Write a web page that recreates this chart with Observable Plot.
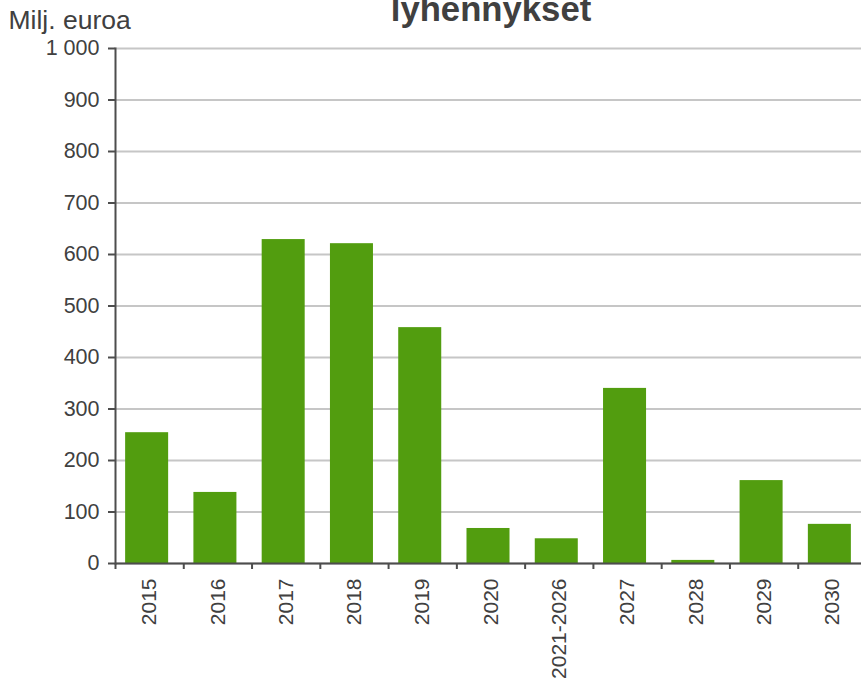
<!DOCTYPE html>
<html>
<head>
<meta charset="utf-8">
<script src="https://cdn.jsdelivr.net/npm/d3@7"></script>
<script src="https://cdn.jsdelivr.net/npm/@observablehq/plot@0.6"></script>
<style>
  html, body { margin: 0; padding: 0; background: #fff; overflow: hidden; }
  #chart { width: 861px; height: 682px; overflow: hidden; }
</style>
</head>
<body>
<div id="chart"></div>
<script>
const title = "lyhennykset";
const yLabel = "Milj. euroa";
const categories = ["2015", "2016", "2017", "2018", "2019", "2020", "2021-2026", "2027", "2028", "2029", "2030"];
const values = [254, 138, 629, 621, 458, 68, 48, 340, 6, 161, 76];
const yTicks = [0, 100, 200, 300, 400, 500, 600, 700, 800, 900, 1000];

const data = categories.map((c, i) => ({ category: c, value: values[i] }));
const fmt = d3.formatLocale({ decimal: ",", thousands: " ", grouping: [3], currency: ["", " €"] }).format(",d");

const W = 861, H = 682;
const mL = 115, mR = -5, mT = 48, mB = 119;
const padInner = 0.37;
const step = (W - mR - mL) / categories.length;
const textColor = "#404040";
const axisColor = "#4d4d4d";

const chart = Plot.plot({
  width: W,
  height: H,
  marginLeft: mL,
  marginRight: mR,
  marginTop: mT,
  marginBottom: mB,
  style: { fontFamily: "'Liberation Sans', Arial, sans-serif", fontSize: "21px", color: textColor, background: "#fff", overflow: "hidden" },
  x: { domain: categories, paddingInner: padInner, paddingOuter: padInner / 2, round: false },
  y: { domain: [0, 1000] },
  marks: [
    Plot.gridY(yTicks, { stroke: "#c6c6c6", strokeOpacity: 1, strokeWidth: 2 }),
    Plot.barY(data, { x: "category", y: "value", fill: "#529d0f", dx: -2.5 }),
    Plot.ruleY([0], { stroke: axisColor, strokeWidth: 2 }),
    Plot.frame({ anchor: "left", stroke: axisColor, strokeWidth: 2 }),
    Plot.axisY({ ticks: yTicks, tickFormat: fmt, tickSize: 7, tickPadding: 9, stroke: axisColor, strokeWidth: 2, fill: textColor, fontSize: 21.5, label: null }),
    Plot.axisX({ tickSize: 6, tickFormat: () => "", dx: -step / 2, stroke: axisColor, strokeWidth: 2, label: null }),
    Plot.axisX({ tickSize: 0, tickPadding: 15, tickRotate: -90, fill: textColor, fontSize: 21, label: null }),
    Plot.text([title], { frameAnchor: "top", lineAnchor: "top", dy: -52.1, fontSize: 34.7, fontWeight: "bold", fill: textColor }),
    Plot.text([yLabel], { frameAnchor: "top-left", lineAnchor: "top", textAnchor: "start", dx: 8 - mL, dy: -38.8, fontSize: 26.5, fill: textColor })
  ]
});
document.getElementById("chart").appendChild(chart);
</script>
</body>
</html>
